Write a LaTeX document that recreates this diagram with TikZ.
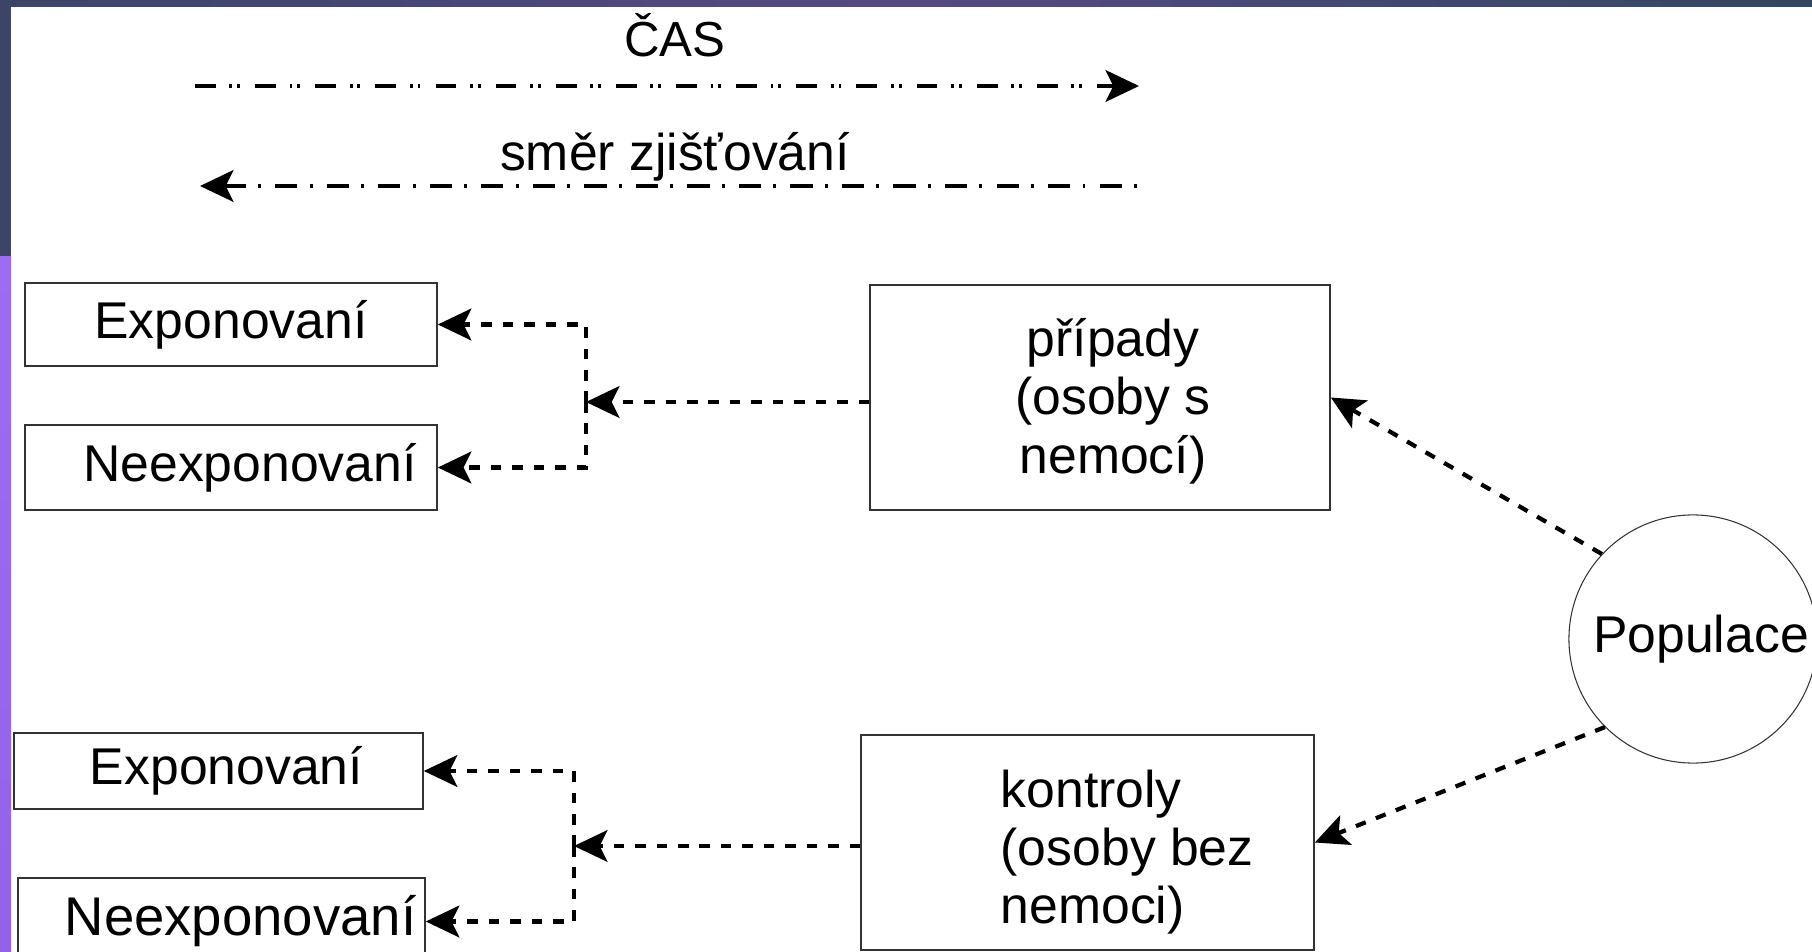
\documentclass[tikz,border=0pt]{standalone}
\usepackage{fontspec}
\setmainfont{Liberation Sans}
\usetikzlibrary{arrows.meta}

\definecolor{slate}{HTML}{3D4566}
\definecolor{barmid}{HTML}{574A82}
\definecolor{barright}{HTML}{34475E}
\definecolor{lilac}{HTML}{9C6CF2}
\definecolor{lilacdark}{HTML}{9262EA}

\def\txtsize{\fontsize{14.7}{16.6}\selectfont}

\tikzset{
  box/.style={draw=black!80, line width=0.4pt, fill=white, inner sep=0pt, font=\txtsize},
  headtip/.style={-{Stealth[length=9.5pt,width=9pt,inset=2.2pt]}},
  conn/.style={headtip, line width=1.2pt, dash pattern=on 3pt off 3.1pt},
}

\begin{document}
\begin{tikzpicture}[x=0.01cm,y=-0.01cm]
\useasboundingbox (0,0) rectangle (1812,952);
\fill[white] (0,0) rectangle (1812,952);
% slide frame
\shade[left color=slate, right color=barright, middle color=barmid] (0,0) rectangle (1812,7);
\fill[slate] (0,0) rectangle (11,257);
\shade[top color=lilac, bottom color=lilacdark] (0,257) rectangle (11,952);

% time and direction
\node[font=\fontsize{14}{16}\selectfont, anchor=base] (cas) at (675,57) {ČAS};
\coordinate (casstart) at (195,86);
\coordinate (casend) at (1139,86);
\draw[headtip, line width=1.1pt, dash pattern=on 5.9pt off 3.9pt on 0.8pt off 1.4pt on 0.8pt off 4.3pt] (casstart) -- (casend);
\node[font=\txtsize, anchor=base] (smer) at (675,171) {směr zjišťování};
\coordinate (smerstart) at (1137,186);
\coordinate (smerend) at (200,186);
\draw[headtip, line width=1.1pt, dash pattern=on 0.85pt off 3.5pt on 6.3pt off 4pt] (smerstart) -- (smerend);

% boxes
\node[box, minimum width=4.12cm, minimum height=0.83cm] (exptop) at (231,324.5) {Exponovaní};
\node[box, minimum width=4.12cm, minimum height=0.85cm] (neexptop) at (231,467.5) {\hspace*{0.38cm}Neexponovaní};
\node[box, minimum width=4.6cm, minimum height=2.25cm] (pripady) at (1100,397.5) {};
\node[font=\txtsize, align=center] (pripadytxt) at (1113,401) {případy\\(osoby s\\nemocí)};
\node[box, circle, minimum size=2.48cm, line width=0.3pt] (popul) at (1693,639) {\hspace*{0.16cm}Populace};
\node[box, minimum width=4.09cm, minimum height=0.76cm] (expbot) at (218.5,771) {\hspace*{0.16cm}Exponovaní};
\node[box, minimum width=4.07cm, minimum height=0.87cm, font=\fontsize{15.5}{18}\selectfont] (neexpbot) at (221.5,921.5) {\hspace*{0.38cm}Neexponovaní};
\node[box, minimum width=4.53cm, minimum height=2.15cm] (kontroly) at (1087.5,842.5) {};
\node[font=\txtsize, align=left, anchor=west, inner sep=0pt] (kontrolytxt) at (1000,852) {kontroly\\(osoby bez\\nemoci)};

% connectors
\coordinate (jtop) at (586,402);
\draw[conn] (pripady.west |- jtop) -- (jtop);
\draw[conn] (jtop) |- (exptop.east);
\draw[conn] (jtop) |- (neexptop.east);
\coordinate (jbot) at (574,846);
\draw[conn] (kontroly.west |- jbot) -- (jbot);
\draw[conn] (jbot) |- (expbot.east);
\draw[conn] (jbot) |- (neexpbot.east);
\draw[conn] (popul.137) -- (pripady.east);
\draw[conn] (popul.225) -- (kontroly.east);
\end{tikzpicture}
\end{document}
